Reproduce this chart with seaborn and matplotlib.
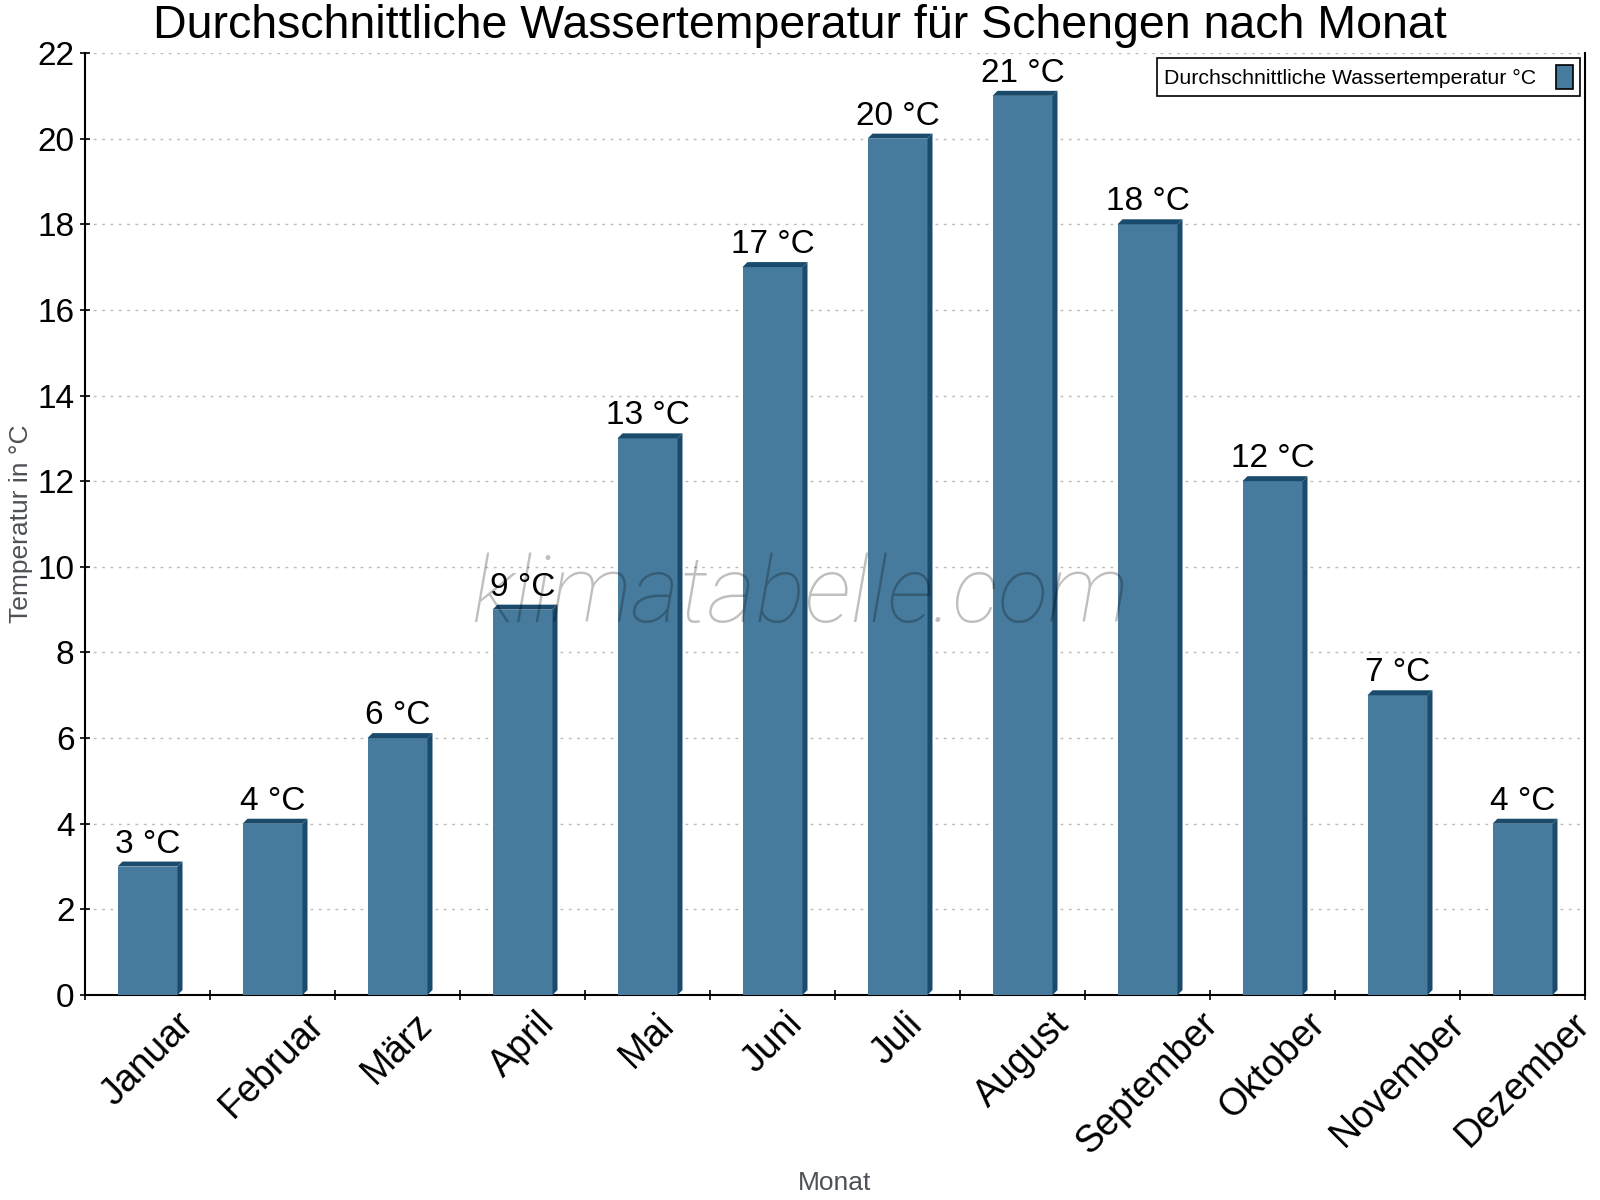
import numpy as np
import pandas as pd
import matplotlib
matplotlib.use("Agg")
import matplotlib.pyplot as plt
from matplotlib.patches import Polygon, Patch
import seaborn as sns

# Data
months = ["Januar", "Februar", "März", "April", "Mai", "Juni", "Juli",
          "August", "September", "Oktober", "November", "Dezember"]
water_temp = [3, 4, 6, 9, 13, 17, 20, 21, 18, 12, 7, 4]
y_ticks = [0, 2, 4, 6, 8, 10, 12, 14, 16, 18, 20, 22]

title = "Durchschnittliche Wassertemperatur für Schengen nach Monat"
legend_label = "Durchschnittliche Wassertemperatur °C"

face_color = "#467b9d"
side_color = "#1a4b6c"

sns.set_style("white")
plt.rcParams["font.family"] = ["Liberation Sans", "DejaVu Sans"]
plt.rcParams["text.color"] = "black"
plt.rcParams["xtick.color"] = "black"
plt.rcParams["ytick.color"] = "black"

df = pd.DataFrame({"Monat": months, "Temp": water_temp})

fig = plt.figure(figsize=(16, 12), dpi=100)
ax = fig.add_axes([85 / 1600, 1 - 995 / 1200, 1500 / 1600, 942 / 1200])

sns.barplot(data=df, x="Monat", y="Temp", color=face_color, saturation=1,
            width=0.48, linewidth=0, edgecolor="none", ax=ax, zorder=3)

ax.set_xlim(-0.5, len(months) - 0.5)
ax.set_ylim(0, 22)

# 3D look: top and right faces, depth in pixels converted to data units
depth_px = 5
dx = depth_px * len(months) / 1500
dy = depth_px * 22 / 942
for bar in ax.patches:
    x0 = bar.get_x()
    x1 = x0 + bar.get_width()
    h = bar.get_height()
    side = Polygon([(x1, 0), (x1 + dx, dy), (x1 + dx, h + dy), (x1, h)],
                   closed=True, facecolor=side_color, edgecolor="none", zorder=3)
    top = Polygon([(x0, h), (x0 + dx, h + dy), (x1 + dx, h + dy), (x1, h)],
                  closed=True, facecolor=side_color, edgecolor="none", zorder=3)
    ax.add_patch(side)
    ax.add_patch(top)
    ax.annotate(f"{int(h)} °C", (bar.get_x() + bar.get_width() / 2, h),
                xytext=(0, 5), textcoords="offset points",
                ha="center", va="bottom", fontsize=24, color="black", zorder=5)

# Grid
ax.set_yticks(y_ticks)
ax.yaxis.grid(True, linestyle=(0, (2, 4)), color="#bbbbbb", linewidth=1)
ax.set_axisbelow(True)

# Spines
for side_name in ["left", "bottom", "right"]:
    ax.spines[side_name].set_visible(True)
    ax.spines[side_name].set_color("black")
    ax.spines[side_name].set_linewidth(1.5)
ax.spines["top"].set_visible(False)

ax.tick_params(axis="y", direction="inout", length=7, width=1.2,
               labelsize=24, pad=4, left=True)
ax.set_xticks(np.arange(len(months)))
ax.set_xticks(np.arange(len(months) + 1) - 0.5, minor=True)
ax.tick_params(axis="x", which="major", length=0, pad=8, labelsize=27)
ax.tick_params(axis="x", which="minor", direction="inout", length=7,
               width=1.2, bottom=True)

for lab in ax.get_xticklabels():
    lab.set_rotation(45)
    lab.set_ha("center")
    lab.set_va("top")

ax.set_xlabel("")
ax.set_ylabel("")
fig.text(21 / 1600, 1 - 524 / 1200, "Temperatur in °C", rotation=90,
         ha="center", va="center", fontsize=19, color="#4d5258")
fig.text(835 / 1600, 1 - 1183 / 1200, "Monat", ha="center", va="center",
         fontsize=19, color="#4d5258")

fig.text(0.5, 1 - 38 / 1200, title, ha="center", va="baseline", fontsize=33.5,
         color="black")

# Legend
handle = Patch(facecolor=face_color, edgecolor="black", linewidth=1.2)
leg = ax.legend([handle], [legend_label], loc="upper right",
                bbox_to_anchor=(0.9967, 0.9947), borderaxespad=0,
                markerfirst=False, fontsize=15.3, fancybox=False,
                framealpha=1, edgecolor="black", handlelength=0.8,
                handleheight=1.3, handletextpad=0.9, borderpad=0.35)
leg.get_frame().set_linewidth(1.2)
leg.set_zorder(6)

# Watermark
fig.text(0.5, 1 - 597 / 1200, "klimatabelle.com", ha="center", va="center",
         fontsize=67, family=["Roboto", "DejaVu Sans"], fontweight="light",
         style="italic", color="black", alpha=0.25, zorder=10)

fig.savefig("out.png", dpi=100)
